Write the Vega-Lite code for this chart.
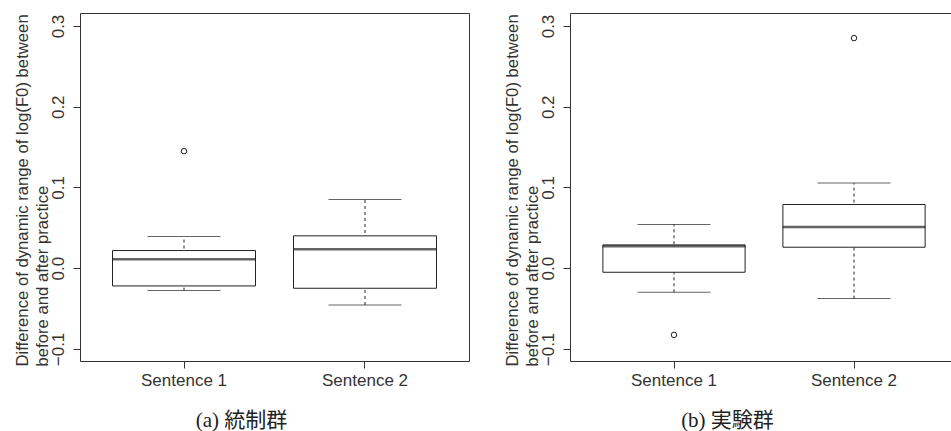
{
  "$schema": "https://vega.github.io/schema/vega-lite/v6.json",
  "padding": {"left": 13, "top": 12, "right": 0, "bottom": 0},
  "spacing": 33,
  "datasets": {
    "stats": [
      {"grp": "a", "sentence": "Sentence 1", "lower": -0.0277, "q1": -0.0219, "median": 0.0112, "q3": 0.0219, "upper": 0.0393},
      {"grp": "a", "sentence": "Sentence 2", "lower": -0.0455, "q1": -0.0248, "median": 0.0236, "q3": 0.0401, "upper": 0.0851},
      {"grp": "b", "sentence": "Sentence 1", "lower": -0.0298, "q1": -0.005, "median": 0.0273, "q3": 0.0289, "upper": 0.0541},
      {"grp": "b", "sentence": "Sentence 2", "lower": -0.0376, "q1": 0.026, "median": 0.0512, "q3": 0.0789, "upper": 0.1054}
    ],
    "outliers": [
      {"grp": "a", "sentence": "Sentence 1", "value": 0.145},
      {"grp": "b", "sentence": "Sentence 1", "value": -0.0826},
      {"grp": "b", "sentence": "Sentence 2", "value": 0.285}
    ]
  },
  "hconcat": [
    {
      "width": 389,
      "height": 348,
      "title": {"text": "(a) 統制群", "orient": "bottom", "anchor": "middle", "frame": "bounds", "font": "Liberation Serif, Noto Sans CJK JP", "fontSize": 21, "fontWeight": "normal", "color": "#222", "offset": 22},
      "layer": [
        {
          "data": {"name": "stats"},
          "transform": [{"filter": "datum.grp === 'a'"}],
          "mark": {"type": "rule", "strokeDash": [3, 3], "color": "#222", "strokeWidth": 1},
          "encoding": {
            "x": {"field": "sentence", "type": "nominal", "scale": {"paddingInner": 0, "paddingOuter": 0.0746, "align": 0.5}, "axis": {"labelAngle": 0, "labelPadding": 4, "title": null}},
            "y": {"field": "lower", "type": "quantitative", "scale": {"domain": [-0.1149, 0.3161], "nice": false, "zero": false},
                  "axis": {"values": [-0.1, 0, 0.1, 0.2, 0.3], "format": ".1f", "labelAngle": -90, "labelAlign": "center", "labelBaseline": "alphabetic", "labelPadding": 10, "labelOverlap": false,
                           "title": ["Difference of dynamic range of log(F0) between", "before and after practice"], "titleAnchor": "start", "titleAlign": "left", "titleY": 353, "titlePadding": -2, "titleLineHeight": 20}},
            "y2": {"field": "upper"}
          }
        },
        {
          "data": {"name": "stats"},
          "transform": [{"filter": "datum.grp === 'a'"}],
          "mark": {"type": "bar", "width": {"band": 0.79}, "fill": "white", "stroke": "#222", "strokeWidth": 1},
          "encoding": {"x": {"field": "sentence", "type": "nominal"}, "y": {"field": "q1", "type": "quantitative"}, "y2": {"field": "q3"}}
        },
        {
          "data": {"name": "stats"},
          "transform": [{"filter": "datum.grp === 'a'"}],
          "mark": {"type": "tick", "size": 143, "thickness": 2.5, "color": "#222"},
          "encoding": {"x": {"field": "sentence", "type": "nominal"}, "y": {"field": "median", "type": "quantitative"}}
        },
        {
          "data": {"name": "stats"},
          "transform": [{"filter": "datum.grp === 'a'"}],
          "mark": {"type": "tick", "size": 73, "thickness": 1, "color": "#222"},
          "encoding": {"x": {"field": "sentence", "type": "nominal"}, "y": {"field": "lower", "type": "quantitative"}}
        },
        {
          "data": {"name": "stats"},
          "transform": [{"filter": "datum.grp === 'a'"}],
          "mark": {"type": "tick", "size": 73, "thickness": 1, "color": "#222"},
          "encoding": {"x": {"field": "sentence", "type": "nominal"}, "y": {"field": "upper", "type": "quantitative"}}
        },
        {
          "data": {"name": "outliers"},
          "transform": [{"filter": "datum.grp === 'a'"}],
          "mark": {"type": "point", "shape": "circle", "filled": false, "size": 30, "strokeWidth": 1, "color": "#222", "opacity": 1},
          "encoding": {"x": {"field": "sentence", "type": "nominal"}, "y": {"field": "value", "type": "quantitative"}}
        }
      ]
    },
    {
      "width": 381,
      "height": 348,
      "title": {"text": "(b) 実験群", "orient": "bottom", "anchor": "middle", "frame": "bounds", "font": "Liberation Serif, Noto Sans CJK JP", "fontSize": 21, "fontWeight": "normal", "color": "#222", "offset": 22},
      "layer": [
        {
          "data": {"name": "stats"},
          "transform": [{"filter": "datum.grp === 'b'"}],
          "mark": {"type": "rule", "strokeDash": [3, 3], "color": "#222", "strokeWidth": 1},
          "encoding": {
            "x": {"field": "sentence", "type": "nominal", "scale": {"paddingInner": 0, "paddingOuter": 0.0583, "align": 0.667}, "axis": {"labelAngle": 0, "labelPadding": 4, "title": null}},
            "y": {"field": "lower", "type": "quantitative", "scale": {"domain": [-0.1149, 0.3161], "nice": false, "zero": false},
                  "axis": {"values": [-0.1, 0, 0.1, 0.2, 0.3], "format": ".1f", "labelAngle": -90, "labelAlign": "center", "labelBaseline": "alphabetic", "labelPadding": 10, "labelOverlap": false,
                           "title": ["Difference of dynamic range of log(F0) between", "before and after practice"], "titleAnchor": "start", "titleAlign": "left", "titleY": 353, "titlePadding": -2, "titleLineHeight": 20}},
            "y2": {"field": "upper"}
          }
        },
        {
          "data": {"name": "stats"},
          "transform": [{"filter": "datum.grp === 'b'"}],
          "mark": {"type": "bar", "width": {"band": 0.79}, "fill": "white", "stroke": "#222", "strokeWidth": 1},
          "encoding": {"x": {"field": "sentence", "type": "nominal"}, "y": {"field": "q1", "type": "quantitative"}, "y2": {"field": "q3"}}
        },
        {
          "data": {"name": "stats"},
          "transform": [{"filter": "datum.grp === 'b'"}],
          "mark": {"type": "tick", "size": 143, "thickness": 2.5, "color": "#222"},
          "encoding": {"x": {"field": "sentence", "type": "nominal"}, "y": {"field": "median", "type": "quantitative"}}
        },
        {
          "data": {"name": "stats"},
          "transform": [{"filter": "datum.grp === 'b'"}],
          "mark": {"type": "tick", "size": 73, "thickness": 1, "color": "#222"},
          "encoding": {"x": {"field": "sentence", "type": "nominal"}, "y": {"field": "lower", "type": "quantitative"}}
        },
        {
          "data": {"name": "stats"},
          "transform": [{"filter": "datum.grp === 'b'"}],
          "mark": {"type": "tick", "size": 73, "thickness": 1, "color": "#222"},
          "encoding": {"x": {"field": "sentence", "type": "nominal"}, "y": {"field": "upper", "type": "quantitative"}}
        },
        {
          "data": {"name": "outliers"},
          "transform": [{"filter": "datum.grp === 'b'"}],
          "mark": {"type": "point", "shape": "circle", "filled": false, "size": 30, "strokeWidth": 1, "color": "#222", "opacity": 1},
          "encoding": {"x": {"field": "sentence", "type": "nominal"}, "y": {"field": "value", "type": "quantitative"}}
        }
      ]
    }
  ],
  "config": {
    "font": "Liberation Sans",
    "view": {"stroke": "#333", "strokeWidth": 1},
    "axis": {"grid": false, "domain": false, "tickColor": "#333", "tickSize": 7, "labelFont": "Liberation Sans", "labelFontSize": 17, "labelColor": "#333", "titleFont": "Liberation Sans", "titleFontSize": 16.7, "titleFontWeight": "normal", "titleColor": "#333"}
  }
}
